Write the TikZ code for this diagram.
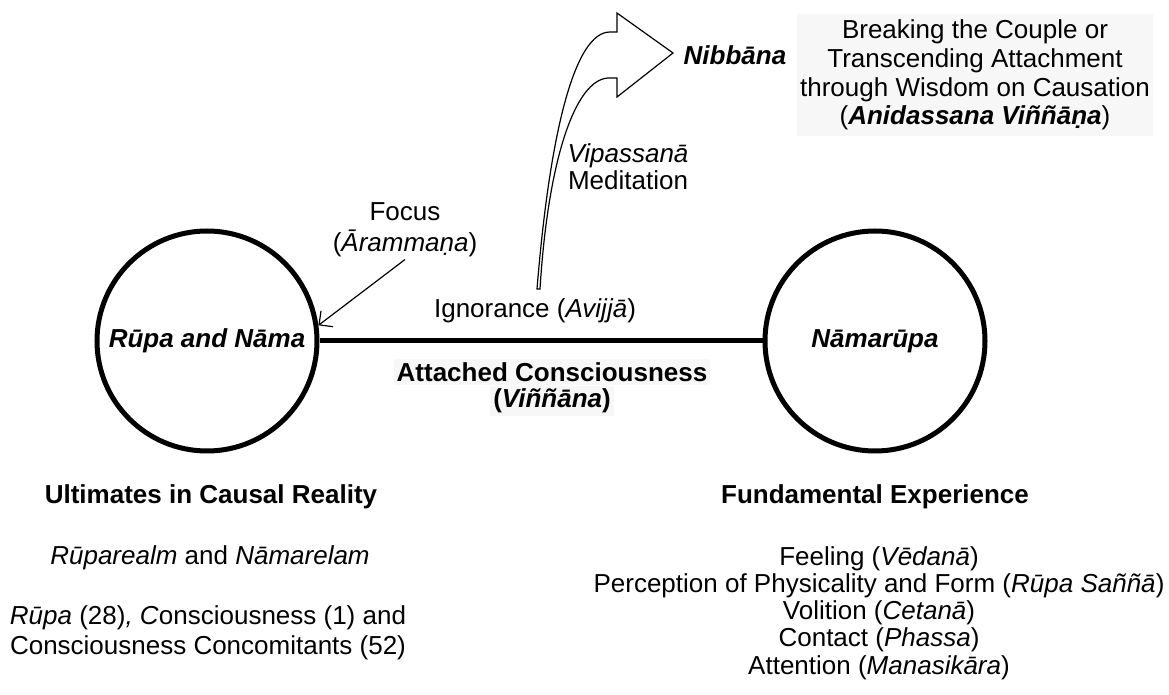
\documentclass[tikz,border=0pt]{standalone}
\usepackage{fontspec}
\setmainfont{Liberation Sans}
\usetikzlibrary{calc}
\usetikzlibrary{arrows.meta}

\tikzset{
  bubble/.style={draw, circle, line width=2.5pt, minimum size=110pt, inner sep=0pt, font=\fontsize{13}{13.6}\selectfont\bfseries\itshape},
  lbl/.style={align=center, inner sep=1pt},
  shade/.style={fill=black!3, inner sep=1.5pt},
}

\begin{document}
\begin{tikzpicture}[x=0.5pt,y=-0.5pt,font=\fontsize{13}{13.6}\selectfont]
\useasboundingbox (0,0) rectangle (1169,695);
\node[bubble] (rupanama) at (207,341) {Rūpa and Nāma};
\node[bubble] (namarupa) at (875,341) {Nāmarūpa};
\draw[line width=2.5pt] (rupanama) -- (namarupa);
\node[lbl] (ignorance) at (535,311) {Ignorance (\textit{Avijjā})};
\node[lbl,shade] (attached) at (552,372) {\textbf{Attached Consciousness}};
\node[lbl,shade] (vinnana) at (552,401) {\textbf{(\textit{Viññāna})}};
\node[lbl,font=\fontsize{13}{15.5}\selectfont] (focus) at (405,230) {Focus\\(\textit{Ārammaṇa})};
\draw[line width=0.6pt,-{Straight Barb[length=5pt]}] (focus.south) -- (rupanama.8);
\draw[line width=0.6pt,fill=white] (537,289) .. controls (550,130) and (575,32) .. (610,32) -- (617,32) -- (617,13) -- (673,53) -- (617,97) -- (617,78) -- (608,78) .. controls (575,80) and (548,160) .. (540,289) -- cycle;
\node[lbl] (nibbana) at (735,55) {\textbf{\textit{Nibbāna}}};
\node[lbl] (vipassana) at (628,167) {\textit{Vipassanā}\\Meditation};
\node[lbl,fill=black!3,inner xsep=1.5pt,inner ysep=3pt,font=\fontsize{13}{14.4}\selectfont] (breaking) at (975,75) {Breaking the Couple or\\Transcending Attachment\\through Wisdom on Causation\\(\textbf{\textit{Anidassana Viññāṇa}})};
\node[lbl] (ultimates) at (211,497) {\textbf{Ultimates in Causal Reality}};
\node[lbl] (realms) at (210,558) {\textit{Rūparealm} and \textit{Nāmarelam}};
\node[lbl,font=\fontsize{13}{15}\selectfont] (counts) at (208,633) {\textit{Rūpa} (28)\textit{, C}onsciousness (1) and\\Consciousness Concomitants (52)};
\node[lbl] (fundamental) at (875,497) {\textbf{Fundamental Experience}};
\node[lbl] (aggregates) at (879,613) {Feeling (\textit{Vēdanā})\\Perception of Physicality and Form (\textit{Rūpa Saññā})\\Volition (\textit{Cetanā})\\Contact (\textit{Phassa})\\Attention (\textit{Manasikāra})};
\end{tikzpicture}
\end{document}
